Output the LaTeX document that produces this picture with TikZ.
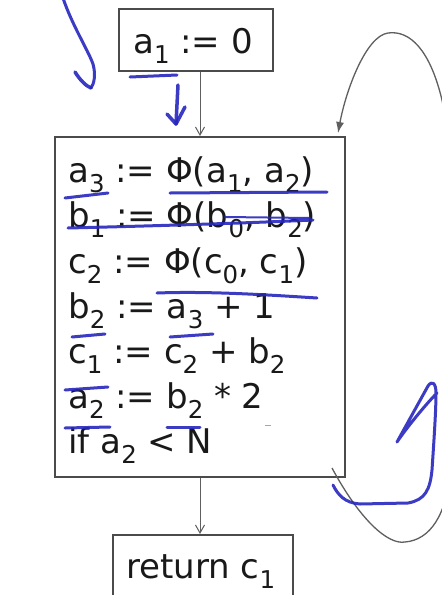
\documentclass[tikz,border=0pt]{standalone}
\usepackage{fontspec}
\usepackage{graphicx}
\setmainfont{DejaVu Sans}
\usetikzlibrary{arrows.meta}
\newcommand\sbs[1]{\raisebox{-0.32em}{\scalebox{0.72}{#1}}}
\definecolor{boxgray}{RGB}{75,75,75}
\definecolor{linegray}{RGB}{95,95,95}
\definecolor{pen}{RGB}{38,38,190}
\tikzset{
  blk/.style={draw=boxgray, line width=2pt, inner sep=0pt},
  code/.style={anchor=base west, inner sep=0pt, text=black!90, font=\fontsize{34}{40}\selectfont},
  flow/.style={draw=linegray, line width=1pt, -{Straight Barb[length=8pt,width=9pt]}},
  back/.style={draw=linegray, line width=1.3pt, -{Latex[length=11pt,width=8pt]}},
  ink/.style={draw=pen, line width=3pt, line cap=round, line join=round, opacity=0.9},
}
\begin{document}
\begin{tikzpicture}[x=1pt,y=-1pt]
\useasboundingbox (0,0) rectangle (442,595);
\clip (0,0) rectangle (442,595);
\fill[white] (0,0) rectangle (442,595);
% boxes
\node[blk, minimum width=154pt, minimum height=62pt] (top) at (196,40) {};
\node[blk, minimum width=290pt, minimum height=340pt] (main) at (200,307) {};
\node[blk, minimum width=180pt, minimum height=80pt] (ret) at (203,575) {};
% texts
\node[code] (t0) at (133,53) {a\sbs{1} := 0};
\node[code] (l1) at (68,182) {a\sbs{3} := Φ(a\sbs{1}, a\sbs{2})};
\node[code] (l2) at (68,227) {b\sbs{1} := Φ(b\sbs{0}, b\sbs{2})};
\node[code] (l3) at (68,273) {c\sbs{2} := Φ(c\sbs{0}, c\sbs{1})};
\node[code] (l4) at (68,318) {b\sbs{2} := a\sbs{3} + 1};
\node[code] (l5) at (68,363) {c\sbs{1} := c\sbs{2} + b\sbs{2}};
\node[code] (l6) at (68,408) {a\sbs{2} := b\sbs{2} * 2};
\node[code] (l7) at (68,453) {if a\sbs{2} < N};
\node[code] (t9) at (126,578) {return c\sbs{1}};
% connectors
\draw[flow] (top.south -| main.north) -- (main.north);
\draw[flow] (main.south) -- (main.south |- ret.north);
\coordinate (ls) at (332,468);
\coordinate (le) at (338,133);
\draw[back] (ls) .. controls (360,520) and (388,545) .. (405,542)
  .. controls (430,540) and (447,515) .. (450,470)
  .. controls (456,330) and (456,170) .. (442,100)
  .. controls (430,50) and (410,30) .. (388,33)
  .. controls (366,36) and (346,90) .. (le);
% small mark
\draw[gray!70, line width=1pt] (265,425) -- (271,425);
% hand-drawn annotations
\draw[ink] (63,-2) .. controls (72,25) and (88,50) .. (93,64) .. controls (96,75) and (94,84) .. (91,88);
\draw[ink, line width=3.5pt] (91,88) .. controls (86,86) and (80,80) .. (75,72);
\draw[ink] (130,77) -- (177,75);
\draw[ink, line width=3.5pt] (178,85) -- (176,124);
\draw[ink, line width=3.5pt] (167,114) -- (176,124) -- (185,107);
\draw[ink] (65,198) -- (108,193);
\draw[ink] (170,193) -- (327,192);
\draw[ink] (68,228) .. controls (150,226) and (250,223) .. (313,220);
\draw[ink, line width=2pt] (225,217) -- (310,218);
\draw[ink] (157,293) .. controls (210,291) and (270,295) .. (317,298);
\draw[ink] (72,337) -- (105,334);
\draw[ink] (170,337) -- (213,334);
\draw[ink] (65,390) -- (108,387);
\draw[ink] (65,428) -- (110,427);
\draw[ink] (167,427) -- (200,427);
\draw[ink] (333,485) .. controls (338,495) and (345,503) .. (360,504)
  -- (408,503) .. controls (425,500) and (430,490) .. (432,470)
  .. controls (434,440) and (436,410) .. (436,393)
  .. controls (436,383) and (432,380) .. (428,386)
  -- (397,442) .. controls (405,430) and (425,405) .. (437,393);
\end{tikzpicture}
\end{document}
